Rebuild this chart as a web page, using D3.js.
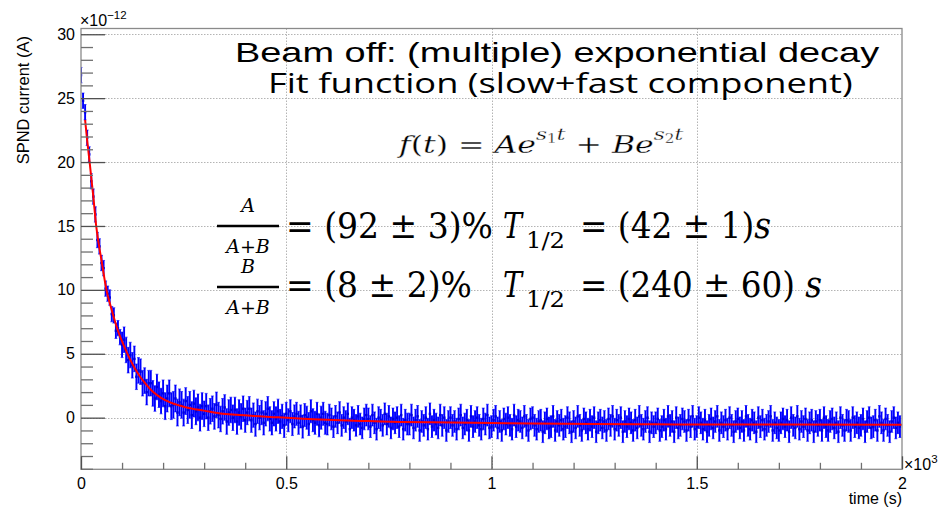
<!DOCTYPE html>
<html><head><meta charset="utf-8">
<script src="https://cdn.jsdelivr.net/npm/d3@7"></script>
<style>html,body{margin:0;padding:0;background:#fff;} svg{display:block;}</style>
</head><body>
<script>
// ---------------- data (current in units of 1e-12 A, time in s) ----------------
const timeStep = 5;          // seconds between samples
// error-bar half size, one value per 100 s segment
const errorBySegment = [0.6,1.0,1.05,1.0,0.95,0.9,0.85,0.85,0.85,0.85,0.85,0.85,0.85,0.85,0.85,0.85,0.85,0.85,0.85,0.85];
const currentValues = [
 26.8,24.8,23.9,21.9,20.6,18.5,17.3,15.9,13.9,13.4,12.1,11.7,10.1,9.7,9.4,8.1,8.0,6.8,7.0,6.3,
 5.7,6.1,5.3,4.5,4.9,4.1,4.6,3.2,3.7,3.6,2.7,2.9,2.0,2.7,2.7,1.9,1.5,2.4,1.8,1.3,
 1.9,0.9,1.5,1.9,0.9,1.0,1.5,0.4,1.2,1.0,0.4,1.3,0.6,1.0,0.2,1.1,0.5,0.8,0.0,0.9,
 0.3,0.9,0.0,0.5,0.7,0.1,1.0,0.2,-0.1,0.5,0.8,-0.3,0.4,0.6,0.0,0.6,-0.3,0.4,0.1,0.7,
 -0.2,0.4,0.7,-0.2,0.2,-0.5,0.5,0.0,0.4,-0.4,0.3,0.7,-0.1,-0.4,0.3,-0.1,0.5,-0.3,0.1,-0.6,
 0.3,-0.2,0.5,-0.5,0.1,0.3,-0.4,0.1,-0.7,0.2,0.0,-0.5,0.5,-0.2,-0.4,0.3,-0.6,0.0,0.3,-0.4,
 -0.5,0.2,-0.1,-0.7,0.1,-0.4,0.4,-0.6,0.0,-0.3,0.3,-0.9,0.0,-0.2,-0.6,0.1,-0.5,-0.8,-0.1,0.2,
 -0.1,-0.7,0.2,-0.4,-0.9,0.0,-0.2,-0.6,0.3,-0.5,0.1,-0.8,-0.1,-0.4,0.0,-0.7,0.2,-0.9,-0.2,-0.5,
 -0.5,0.2,-0.8,-0.2,0.1,-1.0,-0.3,-0.6,0.0,-0.9,0.3,-0.7,-0.2,-0.5,-0.8,0.2,-0.6,0.0,-1.0,-0.3,
 0.0,-0.6,-0.3,-0.9,-0.1,0.2,-0.8,-0.5,-0.2,-1.0,0.1,-0.7,-0.3,0.0,-0.6,-0.9,-0.1,-0.5,0.2,-0.8,
 -0.7,-0.2,0.1,-0.8,-0.3,-1.0,-0.1,-0.5,0.0,-0.6,-0.9,0.2,-0.7,-0.2,-0.3,-0.8,0.1,-0.6,-1.0,-0.1,
 0.0,-0.6,-0.9,-0.3,-0.2,-1.1,-0.4,-0.1,-0.8,-0.7,0.1,-1.0,-0.3,-0.6,-0.2,-0.9,-0.7,0.0,-0.4,-1.1,
 -0.3,-0.8,0.1,-0.6,-1.0,-0.1,-0.4,-0.9,-0.2,-0.7,0.0,-1.1,-0.4,-0.2,-0.8,-0.3,-1.0,-0.1,-0.6,0.1,
 -0.9,-0.2,-0.6,0.0,-1.1,-0.3,-0.7,-0.1,-0.4,-1.0,-0.2,-0.8,0.1,-0.6,-0.9,-0.3,0.0,-1.1,-0.4,-0.7,
 -0.4,-0.1,-1.0,-0.7,-0.2,-0.9,0.1,-0.6,-0.3,-1.1,0.0,-0.8,-0.6,-0.1,-0.3,-1.0,-0.2,-0.7,0.1,-0.9,
 -0.7,0.0,-0.4,-0.9,-0.2,-1.1,-0.6,-0.1,-0.8,-0.3,0.1,-1.0,-0.4,-0.7,-0.2,-0.9,0.0,-0.6,-1.1,-0.3,
 -0.1,-0.8,-0.3,-1.0,0.1,-0.6,-0.9,-0.2,-0.4,-1.1,0.0,-0.7,-0.2,-0.9,-0.6,-0.3,0.1,-1.0,-0.4,-0.8,
 -1.0,-0.4,-0.1,-0.7,-0.2,-1.1,0.0,-0.6,-0.8,0.1,-0.9,-0.3,-0.7,-0.1,-1.0,-0.4,-0.2,-1.1,-0.3,-0.6,
 -0.2,-1.0,0.0,-0.7,-1.0,-0.3,-0.1,-0.8,-0.4,-1.1,0.0,-0.6,-1.0,-0.2,-0.3,-1.0,0.0,-0.7,-0.4,-0.8,
 -0.6,-0.1,-1.1,-0.3,0.0,-0.8,-0.7,-0.2,-1.0,0.1,-0.4,-1.0,-0.1,-0.6,-1.1,-0.3,0.0,-0.8,-0.4,-0.7
];
const fitTimes  = [10,15,21,30,37,50,62,75,90,105,119,132,144,160,176,195,217,240,257,300,339,380,420,460,501,540,582,650,700,777,900,1000,1100,1250,1400,1500,1700,2000];
const fitValues = [23.3,21.7,20.0,17.3,15.0,12.3,10.0,8.4,6.8,5.6,4.6,3.8,3.2,2.55,2.0,1.55,1.2,0.95,0.8,0.55,0.33,0.22,0.14,0.06,0.0,-0.08,-0.15,-0.23,-0.27,-0.33,-0.37,-0.42,-0.46,-0.5,-0.52,-0.53,-0.54,-0.55];
const xMajorTicks = [0,500,1000,1500,2000];
const xTickLabels = ["0","0.5","1","1.5","2"];
const xMinorTicks = d3.range(0,2001,100);
const yMajorTicks = [0,5,10,15,20,25,30];
const yMinorTicks = d3.range(-4,31,1);
const xGrid = [500,1000,1500];
const yGrid = [0,5,10,15,20,25,30];

// ---------------- layout ----------------
const W=943,H=508;
const L=81,R=902,T=28.5,B=469.3;
const svg=d3.select("body").append("svg").attr("width",W).attr("height",H)
  .style("font-family","'Liberation Sans',Arial,Helvetica,sans-serif");
const x=d3.scaleLinear().domain([0,2000]).range([L,R]);
const y=d3.scaleLinear().domain([-4.04,30.45]).range([B,T]);

// grid
const grid=svg.append("g").attr("stroke","#b4b4b4").attr("stroke-width",1).attr("stroke-dasharray","1.5,1.5");
grid.selectAll("line.gy").data(yGrid).join("line").attr("class","gy")
  .attr("x1",L).attr("x2",R).attr("y1",d=>Math.round(y(d))+0.5).attr("y2",d=>Math.round(y(d))+0.5);
grid.selectAll("line.gx").data(xGrid).join("line").attr("class","gx")
  .attr("y1",T).attr("y2",B).attr("x1",d=>Math.round(x(d))+0.5).attr("x2",d=>Math.round(x(d))+0.5);

// data
svg.append("defs").append("clipPath").attr("id","fr").append("rect").attr("x",L).attr("y",T).attr("width",R-L).attr("height",B-T);
const dg=svg.append("g").attr("clip-path","url(#fr)");
const pts=currentValues.map((v,i)=>({t:i*timeStep,v,e:errorBySegment[Math.floor(i*timeStep/100)]}));
dg.append("g").attr("stroke","#6464ff").attr("stroke-width",1).selectAll("path").data(pts).join("path")
  .attr("d",d=>{const xx=x(d.t),a=y(d.v+d.e),b=y(d.v-d.e);return `M${xx-1.5},${a}h3M${xx-1.5},${b}h3`;});
dg.append("g").attr("stroke","#0000ff").attr("stroke-width",1.9).selectAll("line").data(pts).join("line")
  .attr("x1",d=>x(d.t)).attr("x2",d=>x(d.t)).attr("y1",d=>y(d.v+d.e)).attr("y2",d=>y(d.v-d.e));
dg.append("g").attr("fill","#0000dd").selectAll("rect").data(pts).join("rect")
  .attr("x",d=>x(d.t)-1.2).attr("y",d=>y(d.v)-1.2).attr("width",2.4).attr("height",2.4);
const fitPts=fitTimes.map((t,i)=>[t,fitValues[i]]);
dg.append("path").attr("d",d3.line().x(d=>x(d[0])).y(d=>y(d[1])).curve(d3.curveMonotoneX)(fitPts))
  .attr("fill","none").attr("stroke","#ff0000").attr("stroke-width",2);

// frame
svg.append("rect").attr("x",L).attr("y",T).attr("width",R-L).attr("height",B-T)
  .attr("fill","none").attr("stroke","#8a8a8a").attr("stroke-width",1.3);

// axes
const yMaj=d3.axisLeft(y).tickValues(yMajorTicks).tickSize(-24).tickPadding(6).tickFormat(d3.format("d"));
const yMin=d3.axisLeft(y).tickValues(yMinorTicks.filter(v=>!yMajorTicks.includes(v))).tickSize(-12).tickFormat("");
const xMaj=d3.axisBottom(x).tickValues(xMajorTicks).tickSize(-13).tickPadding(8).tickFormat((d,i)=>xTickLabels[i]);
const xMin=d3.axisBottom(x).tickValues(xMinorTicks.filter(v=>!xMajorTicks.includes(v))).tickSize(-6.5).tickFormat("");
function styleAx(g,col){g.select(".domain").remove();g.selectAll(".tick line").attr("stroke",col).attr("stroke-width",1.3);
  g.selectAll("text").attr("font-family","'Liberation Sans',Arial,sans-serif").attr("font-size",16).attr("fill","#000");}
svg.append("g").attr("transform",`translate(${L},0)`).call(yMin).call(g=>styleAx(g,"#707070"));
svg.append("g").attr("transform",`translate(${L},0)`).call(yMaj).call(g=>styleAx(g,"#505050"));
svg.append("g").attr("transform",`translate(0,${B})`).call(xMin).call(g=>styleAx(g,"#707070"));
svg.append("g").attr("transform",`translate(0,${B})`).call(xMaj).call(g=>styleAx(g,"#505050"));

// axis titles & exponents
svg.append("text").attr("transform","translate(29,36) rotate(-90)").attr("text-anchor","end")
  .attr("font-size",16.5).text("SPND current (A)");
svg.append("text").attr("x",R).attr("y",504).attr("text-anchor","end").attr("font-size",16).text("time (s)");
const e1=svg.append("text").attr("x",L-1).attr("y",26).attr("font-size",16);
e1.append("tspan").text("\u00d710");
e1.append("tspan").attr("font-size",11.5).attr("dy",-7).text("\u221212");
const e2=svg.append("text").attr("x",904).attr("y",470).attr("font-size",16);
e2.append("tspan").text("\u00d710");
e2.append("tspan").attr("font-size",11.5).attr("dy",-7).text("3");

// helper: stretch a text horizontally so it spans [x0,x1]
function fitSpan(sel,x0,x1,base){
  const w=sel.node().getBBox().width;
  sel.attr("transform",`translate(${x0},${base}) scale(${(x1-x0)/w},1)`);
}
// annotation text
const t1=svg.append("text").attr("font-size",27).attr("font-family","'Liberation Sans',Arial,sans-serif")
  .text("Beam off: (multiple) exponential decay");
fitSpan(t1,235,880,62);
const t2=svg.append("text").attr("font-size",26.5).attr("font-family","'Open Sans',sans-serif")
  .text("Fit function (slow+fast component)");
fitSpan(t2,268,853,92.5);

const serif="'DejaVu Serif',serif";
// f(t) = A e^{s1 t} + B e^{s2 t}
const f=svg.append("text").attr("font-family",serif).attr("font-size",25)
  .attr("stroke","#fff").attr("stroke-width",0.28).attr("paint-order","fill");
const parts=[["f",1,0,25],["(",0,0,25],["t",1,0,25],[") = ",0,0,25],["Ae",1,0,25],
 ["s",1,-13,17],["1",0,3,12],["t",1,-3,17],[" + ",0,13,25],["Be",1,0,25],
 ["s",1,-13,17],["2",0,3,12],["t",1,-3,17]];
parts.forEach(p=>f.append("tspan").attr("font-style",p[1]?"italic":"normal").attr("dy",p[2]).attr("font-size",p[3]).text(p[0]));
fitSpan(f,399,686,153);

// fraction rows
function frac(num,barY){
  svg.append("line").attr("x1",217).attr("x2",279).attr("y1",barY).attr("y2",barY).attr("stroke","#000").attr("stroke-width",2.5);
  svg.append("text").attr("x",248).attr("y",barY-14).attr("text-anchor","middle").attr("font-family",serif)
    .attr("font-style","italic").attr("font-size",19).text(num);
  const d=svg.append("text").attr("x",248).attr("y",barY+27).attr("text-anchor","middle").attr("font-family",serif).attr("font-size",19);
  d.append("tspan").attr("font-style","italic").text("A");
  d.append("tspan").text("+");
  d.append("tspan").attr("font-style","italic").text("B");
}
function seg(pieces,x0,x1,base,size){
  const t=svg.append("text").attr("x",x0).attr("y",base).attr("font-family",serif).attr("font-size",size||35)
    .attr("textLength",x1-x0).attr("lengthAdjust","spacingAndGlyphs");
  pieces.forEach(p=>t.append("tspan").attr("font-style",p[1]?"italic":"normal").text(p[0]));
}
frac("A",226);
seg([["= (92 \u00b1 3)%"]],286,493,238);
seg([["T",1]],503,522,238);
seg([["1/2"]],526,565,248,22);
seg([["= (42 \u00b1 1)"],["s",1]],580,771,238);
frac("B",287);
seg([["= (8 \u00b1 2)%"]],286,472,297);
seg([["T",1]],503,522,297);
seg([["1/2"]],526,565,307,22);
seg([["= (240 \u00b1 60) "],["s",1]],580,822,297);
</script>
</body></html>
